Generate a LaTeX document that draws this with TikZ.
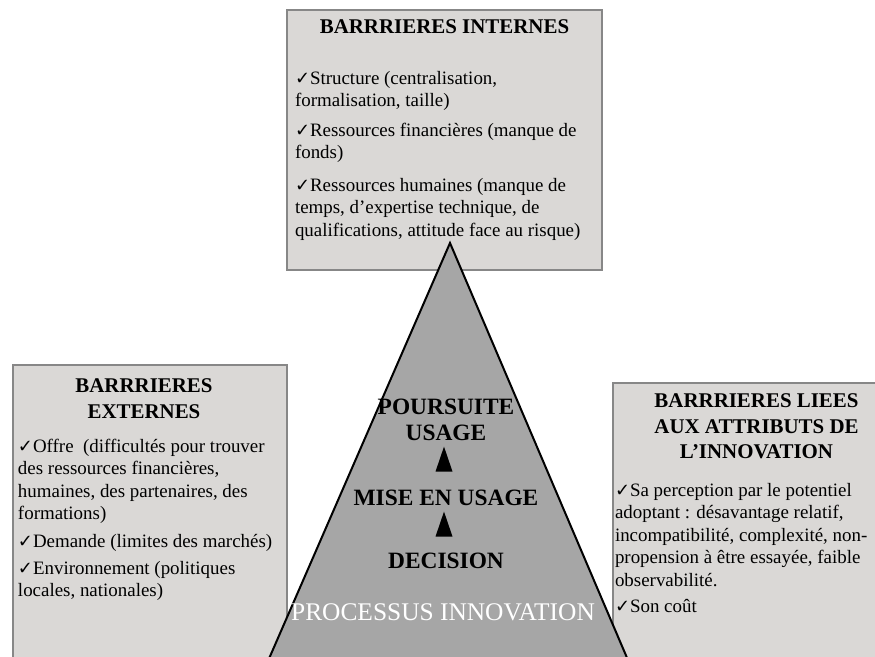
\documentclass[tikz,border=0pt]{standalone}
\usepackage{fontspec}
\setmainfont{Liberation Serif}
\newfontfamily\symbfont{DejaVu Sans}
\usetikzlibrary{shapes.geometric}
\definecolor{boxgray}{RGB}{218,216,214}
\definecolor{edgegray}{RGB}{135,135,135}
\definecolor{pyrgray}{RGB}{166,166,166}
\newcommand{\chk}{{\symbfont\fontsize{18}{15}\selectfont ✓}}

\begin{document}
\begin{tikzpicture}[x=1bp, y=-1bp, inner sep=0, outer sep=0,
  barrier/.style={rectangle, draw=edgegray, line width=1.2bp, fill=boxgray},
  headline/.style={font=\fontsize{21}{25.5}\selectfont\bfseries, align=center, anchor=north},
  bodytext/.style={font=\fontsize{19}{22.6}\selectfont, align=left, anchor=north west},
  stage/.style={font=\fontsize{23.5}{26.5}\selectfont\bfseries, align=center, anchor=base},
  uparrow/.style={isosceles triangle, isosceles triangle stretches, shape border rotate=90,
    fill=black, minimum height=25bp, minimum width=17bp}]
  \useasboundingbox (0,0) rectangle (875,657);
  \clip (0,0) rectangle (875,657);

  \node[barrier, minimum width=315bp, minimum height=260bp] (intern) at (444.5,140) {};
  \node[barrier, minimum width=274bp, minimum height=335bp] (extern) at (150,532.5) {};
  \node[barrier, minimum width=287bp, minimum height=317bp] (attrib) at (756.5,541.5) {};

  \node[headline] (ititle) at ([yshift=-10bp]intern.north) {BARRRIERES INTERNES};
  \node[bodytext] (ibody) at ([xshift=8bp, yshift=-61bp]intern.north west) {%
    \chk Structure (centralisation,\\
    formalisation, taille)\\[7bp]
    \chk Ressources financières (manque de\\
    fonds)\\[10bp]
    \chk Ressources humaines (manque de\\
    temps, d’expertise technique, de\\
    qualifications, attitude face au risque)};

  \node[headline] (etitle) at ([xshift=-6bp, yshift=-14bp]extern.north) {BARRRIERES\\EXTERNES};
  \node[bodytext] (ebody) at ([xshift=5bp, yshift=-74bp]extern.north west) {%
    \chk Offre\ \ (difficultés pour trouver\\
    des ressources financières,\\
    humaines, des partenaires, des\\
    formations)\\[5bp]
    \chk Demande (limites des marchés)\\[4.5bp]
    \chk Environnement (politiques\\
    locales, nationales)};

  \node[headline] (atitle) at ([yshift=-11bp]attrib.north) {BARRRIERES LIEES\\AUX ATTRIBUTS DE\\L’INNOVATION};
  \node[bodytext] (abody) at ([xshift=2bp, yshift=-100bp]attrib.north west) {%
    \chk Sa perception par le potentiel\\
    adoptant : désavantage relatif,\\
    incompatibilité, complexité, non-\\
    propension à être essayée, faible\\
    observabilité.\\[4bp]
    \chk Son coût};

  % pyramid
  \coordinate (apex) at (450,243);
  \coordinate (lbase) at (251,700);
  \coordinate (rbase) at (645,700);
  \draw[fill=pyrgray, line width=2bp, line join=miter] (apex) -- (rbase) -- (lbase) -- cycle;

  \node[stage, anchor=north] (suite) at (446,399) {POURSUITE\\USAGE};
  \node[uparrow] (arrowA) at (444,465.5) {};
  \node[stage] (mise) at (446,505) {MISE EN USAGE};
  \node[uparrow] (arrowB) at (444,530.5) {};
  \node[stage] (decision) at (446,568) {DECISION};
  \node[stage, font=\fontsize{25.5}{28}\selectfont, text=white] (process) at (443,620) {PROCESSUS INNOVATION};
\end{tikzpicture}
\end{document}
